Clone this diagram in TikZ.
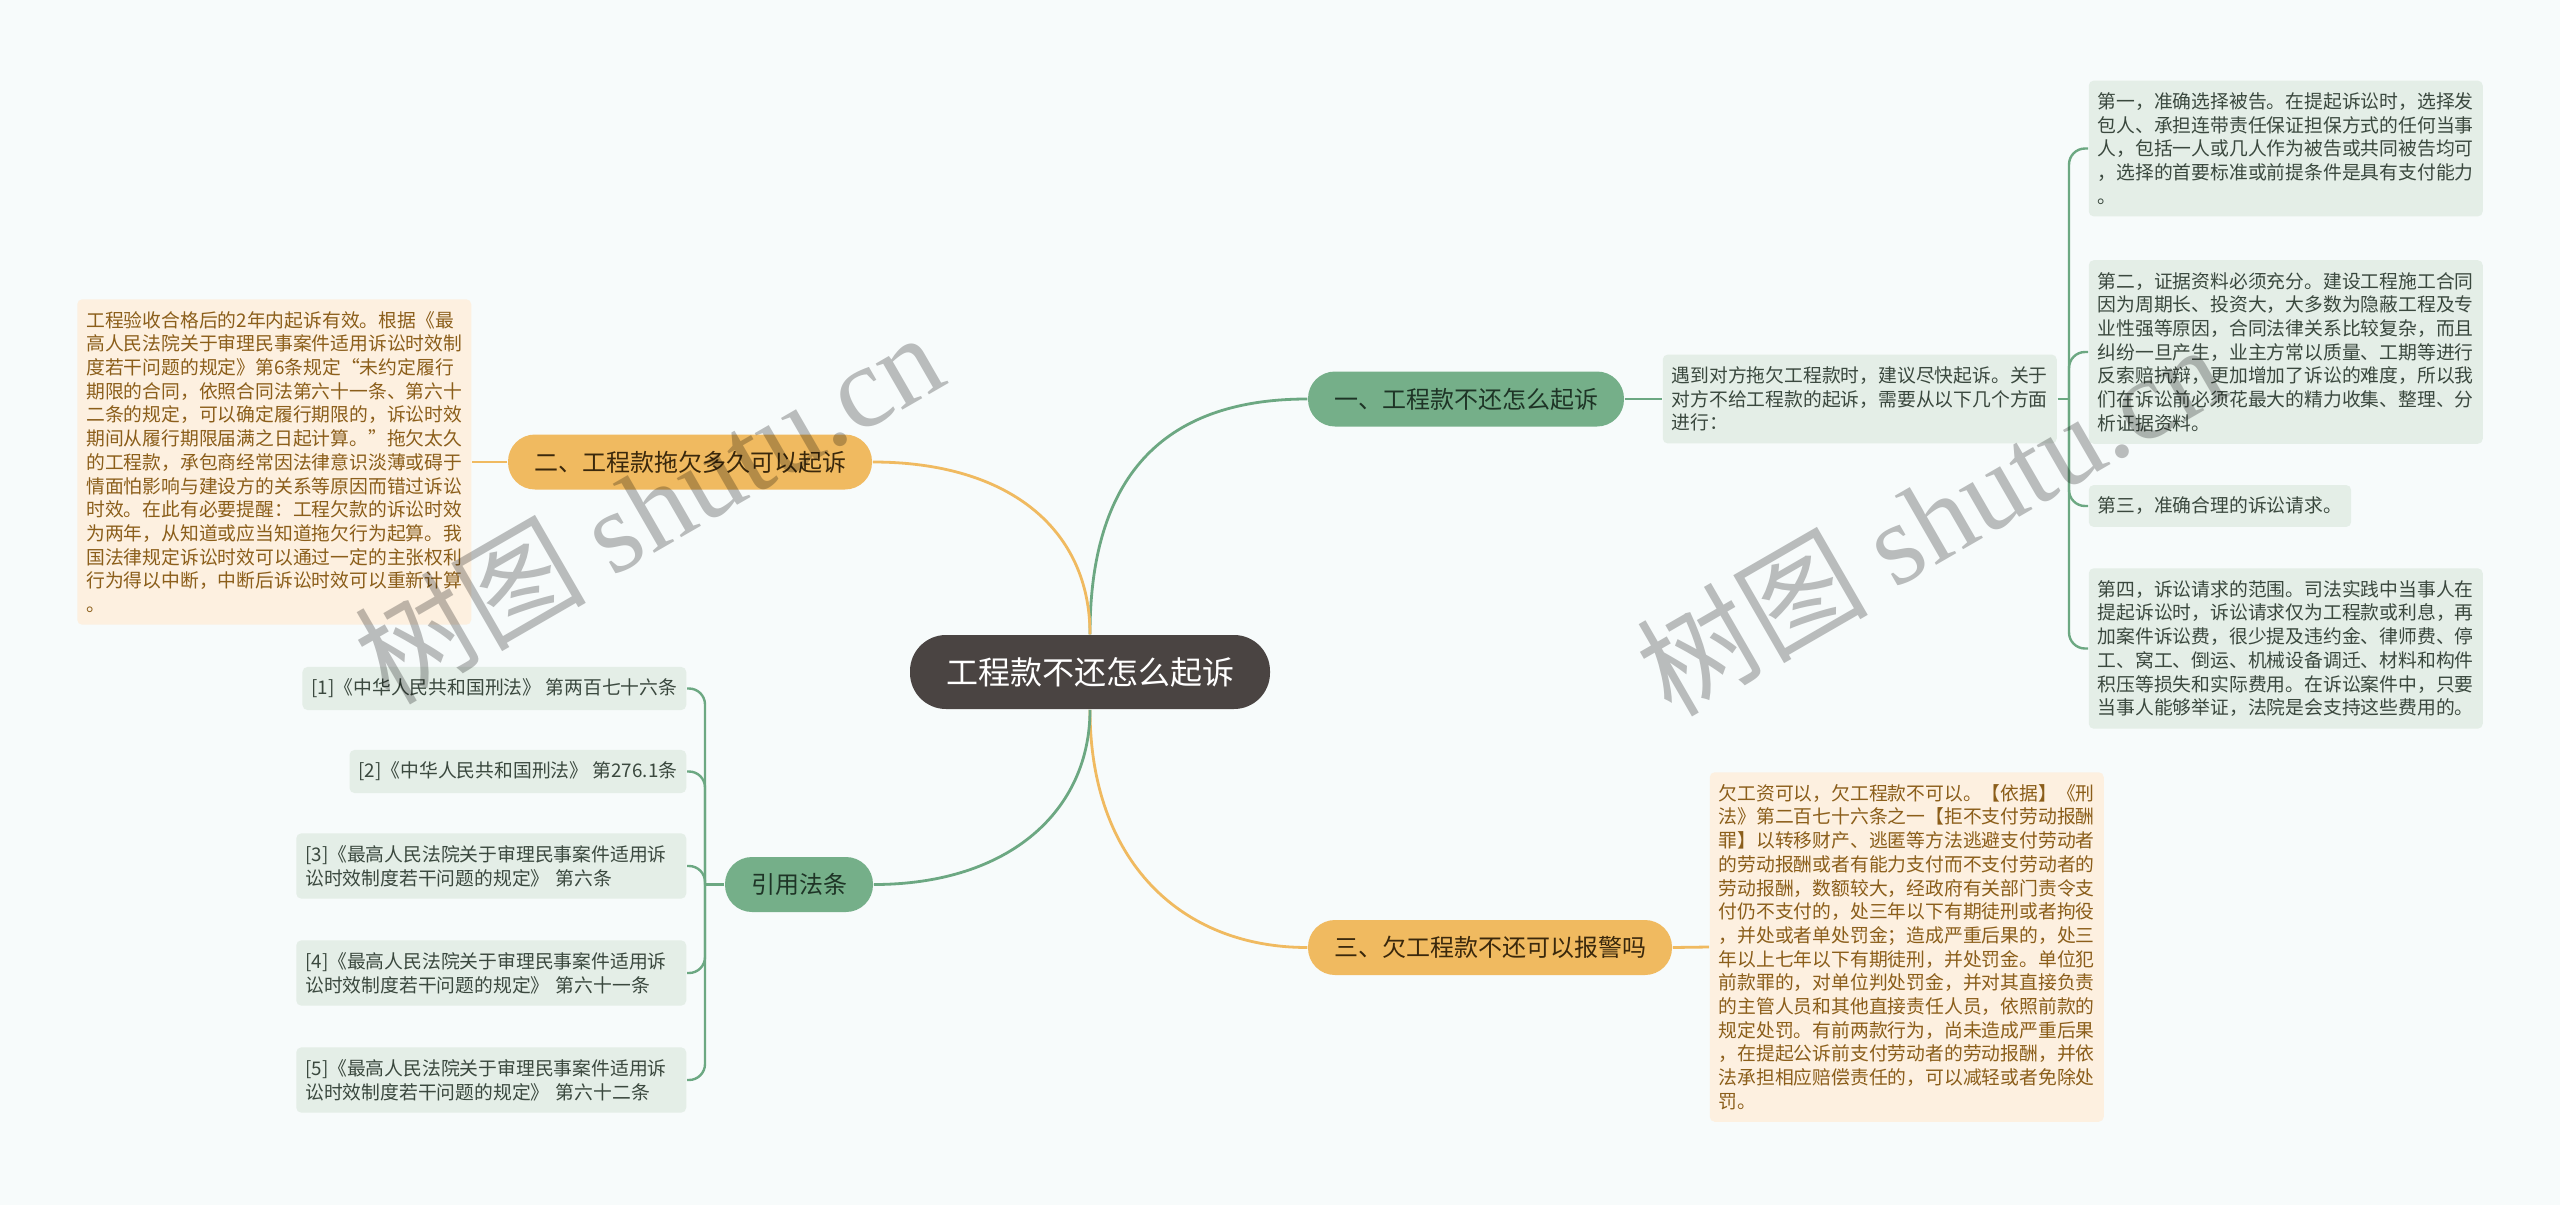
\documentclass[tikz,border=0pt]{standalone}
\usepackage{fontspec}
\setmainfont{Noto Sans CJK SC}
\newfontfamily\wmlatin{Liberation Serif}
\usepackage{tikz}
\tikzset{every picture/.style={line width=0.75pt}}

\definecolor{bgcol}{RGB}{247,251,251}
\definecolor{rootfill}{RGB}{74,68,66}
\definecolor{greenfill}{RGB}{117,175,137}
\definecolor{greenline}{RGB}{108,168,130}
\definecolor{orangefill}{RGB}{240,186,96}
\definecolor{greenbox}{RGB}{228,238,231}
\definecolor{creambox}{RGB}{253,240,224}
\definecolor{greentext}{RGB}{58,72,62}
\definecolor{browntext}{RGB}{139,94,26}

\tikzset{
  rootbox/.style={fill=rootfill, text=white, rounded corners=18pt, minimum height=37pt, inner xsep=18pt, font=\fontsize{16}{19}\selectfont},
  branch/.style={rounded corners=13.5pt, minimum height=27.5pt, inner xsep=13pt, inner ysep=0pt, font=\fontsize{12}{14}\selectfont},
  gbranch/.style={branch, fill=greenfill, text={rgb,255:red,30;green,52;blue,38}},
  obranch/.style={branch, fill=orangefill, text={rgb,255:red,58;green,40;blue,12}},
  leaf/.style={rounded corners=2.5pt, align=left, inner xsep=4.5pt, inner ysep=6pt, font=\fontsize{9.4}{11.85}\selectfont},
  gleaf/.style={leaf, fill=greenbox, text=greentext},
  oleaf/.style={leaf, fill=creambox, text=browntext},
  gwire/.style={draw=greenline, line width=1.4pt},
  owire/.style={draw=orangefill, line width=1.4pt},
  wmark/.style={text=black, opacity=0.25, rotate=30, font=\fontsize{58}{64}\selectfont}
}

\begin{document}
\begin{tikzpicture}[x=0.5pt,y=0.5pt,yscale=-1,xscale=1]
%set diagram to 2560 x 1205
\fill[bgcol] (0,0) rectangle (2560,1205);
\useasboundingbox (0,0) rectangle (2560,1205);

% Root
\node[rootbox] (root) at (1090,672) {工程款不还怎么起诉};

% Branches
\node[gbranch] (b1) at (1466,399) {一、工程款不还怎么起诉};
\node[obranch] (b2) at (690,462) {二、工程款拖欠多久可以起诉};
\node[obranch] (b3) at (1490,947.5) {三、欠工程款不还可以报警吗};
\node[gbranch] (b4) at (799,884.5) {引用法条};

% Text Node
\node[gleaf, anchor=west] (d1) at (1662,399) {遇到对方拖欠工程款时，建议尽快起诉。关于\\对方不给工程款的起诉，需要从以下几个方面\\进行：};
% Text Node
\node[gleaf, anchor=west] (s1) at (2088,148.5) {第一，准确选择被告。在提起诉讼时，选择发\\包人、承担连带责任保证担保方式的任何当事\\人，包括一人或几人作为被告或共同被告均可\\，选择的首要标准或前提条件是具有支付能力\\。};
% Text Node
\node[gleaf, anchor=west] (s2) at (2088,352) {第二，证据资料必须充分。建设工程施工合同\\因为周期长、投资大，大多数为隐蔽工程及专\\业性强等原因，合同法律关系比较复杂，而且\\纠纷一旦产生，业主方常以质量、工期等进行\\反索赔抗辩，更加增加了诉讼的难度，所以我\\们在诉讼前必须花最大的精力收集、整理、分\\析证据资料。};
% Text Node
\node[gleaf, anchor=west] (s3) at (2088,506) {第三，准确合理的诉讼请求。};
% Text Node
\node[gleaf, anchor=west] (s4) at (2088,648.5) {第四，诉讼请求的范围。司法实践中当事人在\\提起诉讼时，诉讼请求仅为工程款或利息，再\\加案件诉讼费，很少提及违约金、律师费、停\\工、窝工、倒运、机械设备调迁、材料和构件\\积压等损失和实际费用。在诉讼案件中，只要\\当事人能够举证，法院是会支持这些费用的。};

% Text Node
\node[oleaf, anchor=east] (d2) at (472,462) {工程验收合格后的2年内起诉有效。根据《最\\高人民法院关于审理民事案件适用诉讼时效制\\度若干问题的规定》第6条规定“未约定履行\\期限的合同，依照合同法第六十一条、第六十\\二条的规定，可以确定履行期限的，诉讼时效\\期间从履行期限届满之日起计算。”拖欠太久\\的工程款，承包商经常因法律意识淡薄或碍于\\情面怕影响与建设方的关系等原因而错过诉讼\\时效。在此有必要提醒：工程欠款的诉讼时效\\为两年，从知道或应当知道拖欠行为起算。我\\国法律规定诉讼时效可以通过一定的主张权利\\行为得以中断，中断后诉讼时效可以重新计算\\。};

% Text Node
\node[oleaf, anchor=west] (d3) at (1709,947) {欠工资可以，欠工程款不可以。【依据】《刑\\法》第二百七十六条之一【拒不支付劳动报酬\\罪】以转移财产、逃匿等方法逃避支付劳动者\\的劳动报酬或者有能力支付而不支付劳动者的\\劳动报酬，数额较大，经政府有关部门责令支\\付仍不支付的，处三年以下有期徒刑或者拘役\\，并处或者单处罚金；造成严重后果的，处三\\年以上七年以下有期徒刑，并处罚金。单位犯\\前款罪的，对单位判处罚金，并对其直接负责\\的主管人员和其他直接责任人员，依照前款的\\规定处罚。有前两款行为，尚未造成严重后果\\，在提起公诉前支付劳动者的劳动报酬，并依\\法承担相应赔偿责任的，可以减轻或者免除处\\罚。};

% References
\node[gleaf, anchor=east] (r1) at (687,688.5) {[1]《中华人民共和国刑法》 第两百七十六条};
\node[gleaf, anchor=east] (r2) at (687,771.5) {[2]《中华人民共和国刑法》 第276.1条};
\node[gleaf, anchor=east, text width=186pt] (r3) at (687,866) {[3]《最高人民法院关于审理民事案件适用诉\\讼时效制度若干问题的规定》 第六条};
\node[gleaf, anchor=east, text width=186pt] (r4) at (687,973) {[4]《最高人民法院关于审理民事案件适用诉\\讼时效制度若干问题的规定》 第六十一条};
\node[gleaf, anchor=east, text width=186pt] (r5) at (687,1080) {[5]《最高人民法院关于审理民事案件适用诉\\讼时效制度若干问题的规定》 第六十二条};

%Curve Lines
\draw[gwire] (root.north) .. controls (1090,480) and (1160,399) .. (b1.west);
\draw[owire] (root.north) .. controls (1090,530) and (1010,462) .. (b2.east);
\draw[owire] (root.south) .. controls (1090,860) and (1180,947.5) .. (b3.west);
\draw[gwire] (root.south) .. controls (1090,810) and (1010,884.5) .. (b4.east);

%Straight Lines
\draw[gwire] (b1.east) -- (d1.west);
\draw[owire] (b2.west) -- (d2.east);
\draw[owire] (b3.east) -- (d3.west);

% brackets
\coordinate (j1) at (2069,399);
\coordinate (j4) at (705,884.5);
\draw[gwire, line width=1.2pt] (d1.east) -- (j1);
\foreach \s in {s1,s2,s3,s4}
  \draw[gwire, line width=1.2pt, rounded corners=8pt] (j1) |- (\s.west);
\draw[gwire, line width=1.2pt] (b4.west) -- (j4);
\foreach \r in {r1,r2,r3,r4,r5}
  \draw[gwire, line width=1.2pt, rounded corners=8pt] (j4) |- (\r.east);

% Watermarks
\node[wmark] (wm1) at (648,506) {树图 {\wmlatin shutu.cn}};
\node[wmark] (wm2) at (1930,518) {树图 {\wmlatin shutu.cn}};

\end{tikzpicture}
\end{document}
